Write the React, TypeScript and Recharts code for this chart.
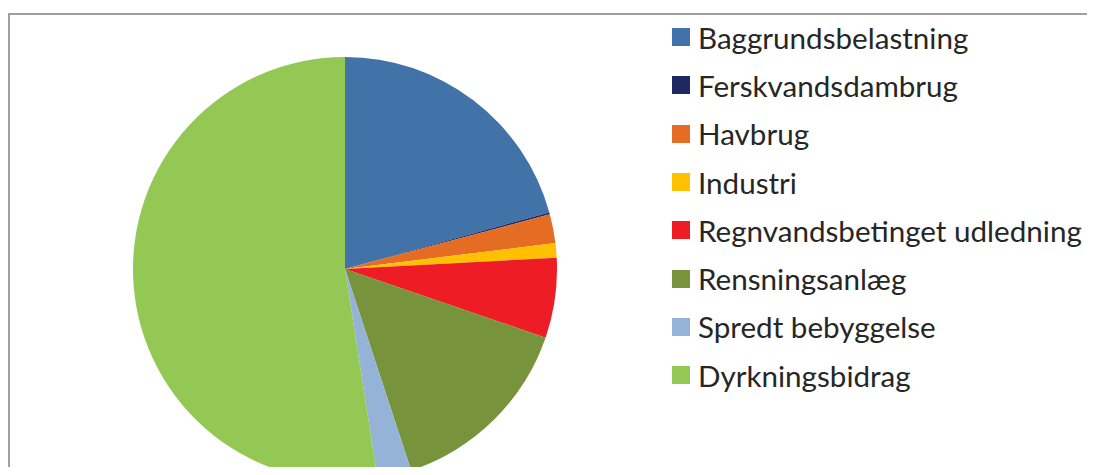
import React from "react";
import { PieChart, Pie, Cell, Legend } from "recharts";

const categories = [
  "Baggrundsbelastning",
  "Ferskvandsdambrug",
  "Havbrug",
  "Industri",
  "Regnvandsbetinget udledning",
  "Rensningsanlæg",
  "Spredt bebyggelse",
  "Dyrkningsbidrag",
];

const shares = [20.7, 0.15, 2.2, 1.1, 6.1, 14.7, 2.6, 52.45];

const colors = [
  "#4172A8",
  "#1F2860",
  "#E46C23",
  "#FFC000",
  "#EE1C24",
  "#77933C",
  "#95B3D7",
  "#92C853",
];

const chartData = categories.map((name, i) => ({ name, value: shares[i] }));

function LegendList() {
  return (
    <div style={{ fontFamily: "Lato, 'Open Sans', sans-serif" }}>
      {categories.map((name, i) => (
        <div
          key={name}
          style={{ display: "flex", alignItems: "center", height: 48.3 }}
        >
          <span
            style={{
              width: 18,
              height: 18,
              background: colors[i],
              marginRight: 8,
              flexShrink: 0,
            }}
          />
          <span style={{ fontSize: 29.6, color: "#262626", whiteSpace: "nowrap" }}>
            {name}
          </span>
        </div>
      ))}
    </div>
  );
}

export default function App() {
  return (
    <div
      style={{
        position: "relative",
        width: 1095,
        height: 475,
        margin: -8,
        overflow: "hidden",
        background: "#fff",
      }}
    >
      <div
        style={{
          position: "absolute",
          left: 8,
          top: 13,
          width: 1120,
          height: 520,
          border: "2px solid #a0a0a0",
        }}
      />
      <PieChart
        width={1095}
        height={475}
        margin={{ top: 0, right: 0, bottom: 0, left: 0 }}
        style={{ position: "absolute", left: 0, top: 0 }}
      >
        <Pie
          data={chartData}
          dataKey="value"
          nameKey="name"
          cx={345}
          cy={269}
          outerRadius={212}
          startAngle={90}
          endAngle={-270}
          stroke="none"
          isAnimationActive={false}
        >
          {chartData.map((d, i) => (
            <Cell key={d.name} fill={colors[i]} />
          ))}
        </Pie>
        <Legend
          layout="vertical"
          verticalAlign="top"
          align="right"
          content={() => <LegendList />}
          wrapperStyle={{ left: 672, top: 13, width: 423 }}
        />
      </PieChart>
    </div>
  );
}
